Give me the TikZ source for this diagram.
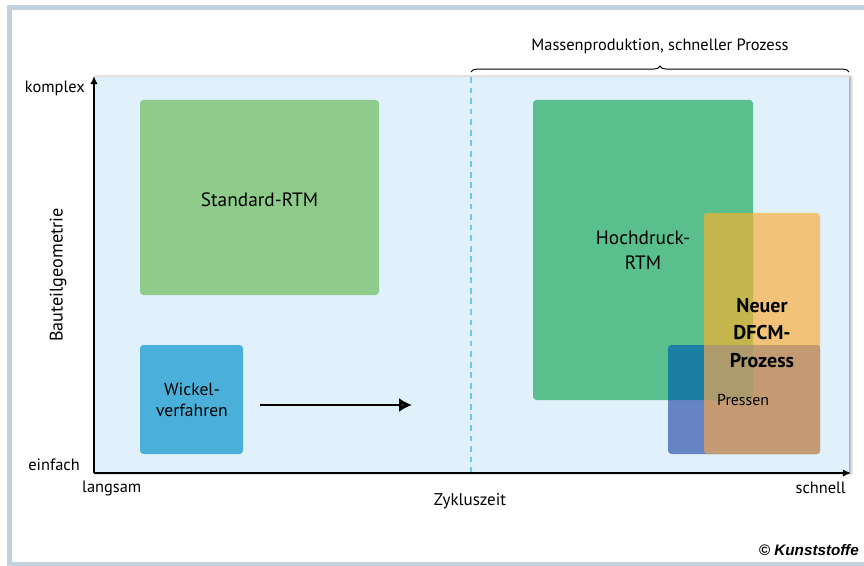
\documentclass[tikz,border=0pt]{standalone}
\usepackage{fontspec}
\setmainfont{PT Sans}
\newfontfamily\logofont{Liberation Sans}
\usetikzlibrary{arrows.meta,shadows.blur,decorations.pathreplacing}

\definecolor{framegray}{HTML}{C3D1DC}
\definecolor{panelblue}{HTML}{E0F1FB}
\definecolor{dashblue}{HTML}{6CC8EF}
\definecolor{rtmgreen}{HTML}{8FCC8B}
\definecolor{hdgreen}{HTML}{58BF8D}
\definecolor{wickelblue}{HTML}{4AB0D9}
\definecolor{dfcmorange}{HTML}{F2C278}
\definecolor{pressblue}{HTML}{6584C1}
\definecolor{mixgo}{HTML}{C4B54C}
\definecolor{mixgb}{HTML}{1A7FA3}
\definecolor{mixob}{HTML}{C39A72}
\definecolor{mixall}{HTML}{AD9B6B}

\begin{document}
\begin{tikzpicture}[x=0.03cm,y=-0.03cm,
    link/.style={line width=2.3pt,-{Latex[length=11pt,width=12pt]}},
    axis/.style={line width=1.8pt,-{Latex[length=7pt,width=6.5pt]}},
    box/.style={rounded corners=3pt},
    lbl/.style={font=\fontsize{14}{16}\selectfont},
    boxlbl/.style={font=\fontsize{16.5}{21}\selectfont,align=center}]
    \useasboundingbox (0,0) rectangle (864,566);
    \draw[framegray,line width=3.5pt] (864,7.5) -- (9.5,7.5) -- (9.5,564) -- (864,564);

    \fill[panelblue,blur shadow={shadow xshift=1.5pt,shadow yshift=0pt,shadow blur radius=2.5pt}] (94,77) rectangle (849,473);
    \draw[dashblue,line width=1.2pt,dash pattern=on 5pt off 4pt] (471,77) -- (471,473);

    \fill[rtmgreen,box] (140,100) rectangle (379,295);
    \fill[wickelblue,box] (140,345) rectangle (243,454);
    \fill[hdgreen,box] (533,100) rectangle (753,400);
    \fill[dfcmorange,box] (704,213) rectangle (820,454);
    \fill[pressblue,box] (668,345) rectangle (820,454);
    \begin{scope}
        \clip[box] (533,100) rectangle (753,400);
        \fill[mixgo,box] (704,213) rectangle (820,454);
        \fill[mixgb,box] (668,345) rectangle (820,454);
    \end{scope}
    \begin{scope}
        \clip[box] (704,213) rectangle (820,454);
        \fill[mixob,box] (668,345) rectangle (820,454);
        \clip[box] (533,100) rectangle (753,400);
        \fill[mixall] (668,345) rectangle (820,454);
    \end{scope}

    \node[boxlbl] (standard) at (259.5,200) {Standard-RTM};
    \node[boxlbl,font=\fontsize{15}{18.5}\selectfont] (wickel) at (192,400) {Wickel-\\verfahren};
    \node[boxlbl] (hochdruck) at (643,250) {Hochdruck-\\RTM};
    \node[boxlbl,font=\fontsize{17}{23.5}\bfseries\selectfont] (dfcm) at (762,333) {Neuer\\DFCM-\\Prozess};
    \node[lbl,font=\fontsize{13.5}{16}\selectfont,anchor=west,inner sep=0pt] (pressen) at (717,400) {Pressen};

    \coordinate (origin) at (94,473);
    \coordinate (ytop) at (94,76);
    \coordinate (xend) at (851,473);
    \draw[axis] (origin) -- (ytop);
    \draw[axis] (origin) -- (xend);

    \coordinate (movestart) at (260,405);
    \coordinate (moveend) at (412,405);
    \draw[link] (movestart) -- (moveend);

    \coordinate (bracestart) at (471,72);
    \coordinate (braceend) at (849,72);
    \draw[thick,decorate,decoration={brace,amplitude=5pt}] (bracestart) -- (braceend);
    \node[lbl] (massen) at (660,46) {Massenproduktion, schneller Prozess};

    \node[lbl,anchor=east,inner sep=0pt] (komplex) at (85,88) {komplex};
    \node[lbl,anchor=east,inner sep=0pt] (einfach) at (80,465) {einfach};
    \node[lbl,anchor=west,inner sep=0pt] (langsam) at (82,488) {langsam};
    \node[lbl,anchor=east,inner sep=0pt] (schnell) at (846,488) {schnell};
    \node[lbl,font=\fontsize{14.5}{16}\selectfont] (zyklus) at (470,501) {Zykluszeit};
    \node[lbl,font=\fontsize{15.5}{17}\selectfont,rotate=90] (geometrie) at (58,275) {Bauteilgeometrie};
    \node[anchor=east,inner sep=0pt,font=\logofont\bfseries\itshape\fontsize{13}{15}\selectfont] (logo) at (859,550) {© Kunststoffe};
\end{tikzpicture}
\end{document}
